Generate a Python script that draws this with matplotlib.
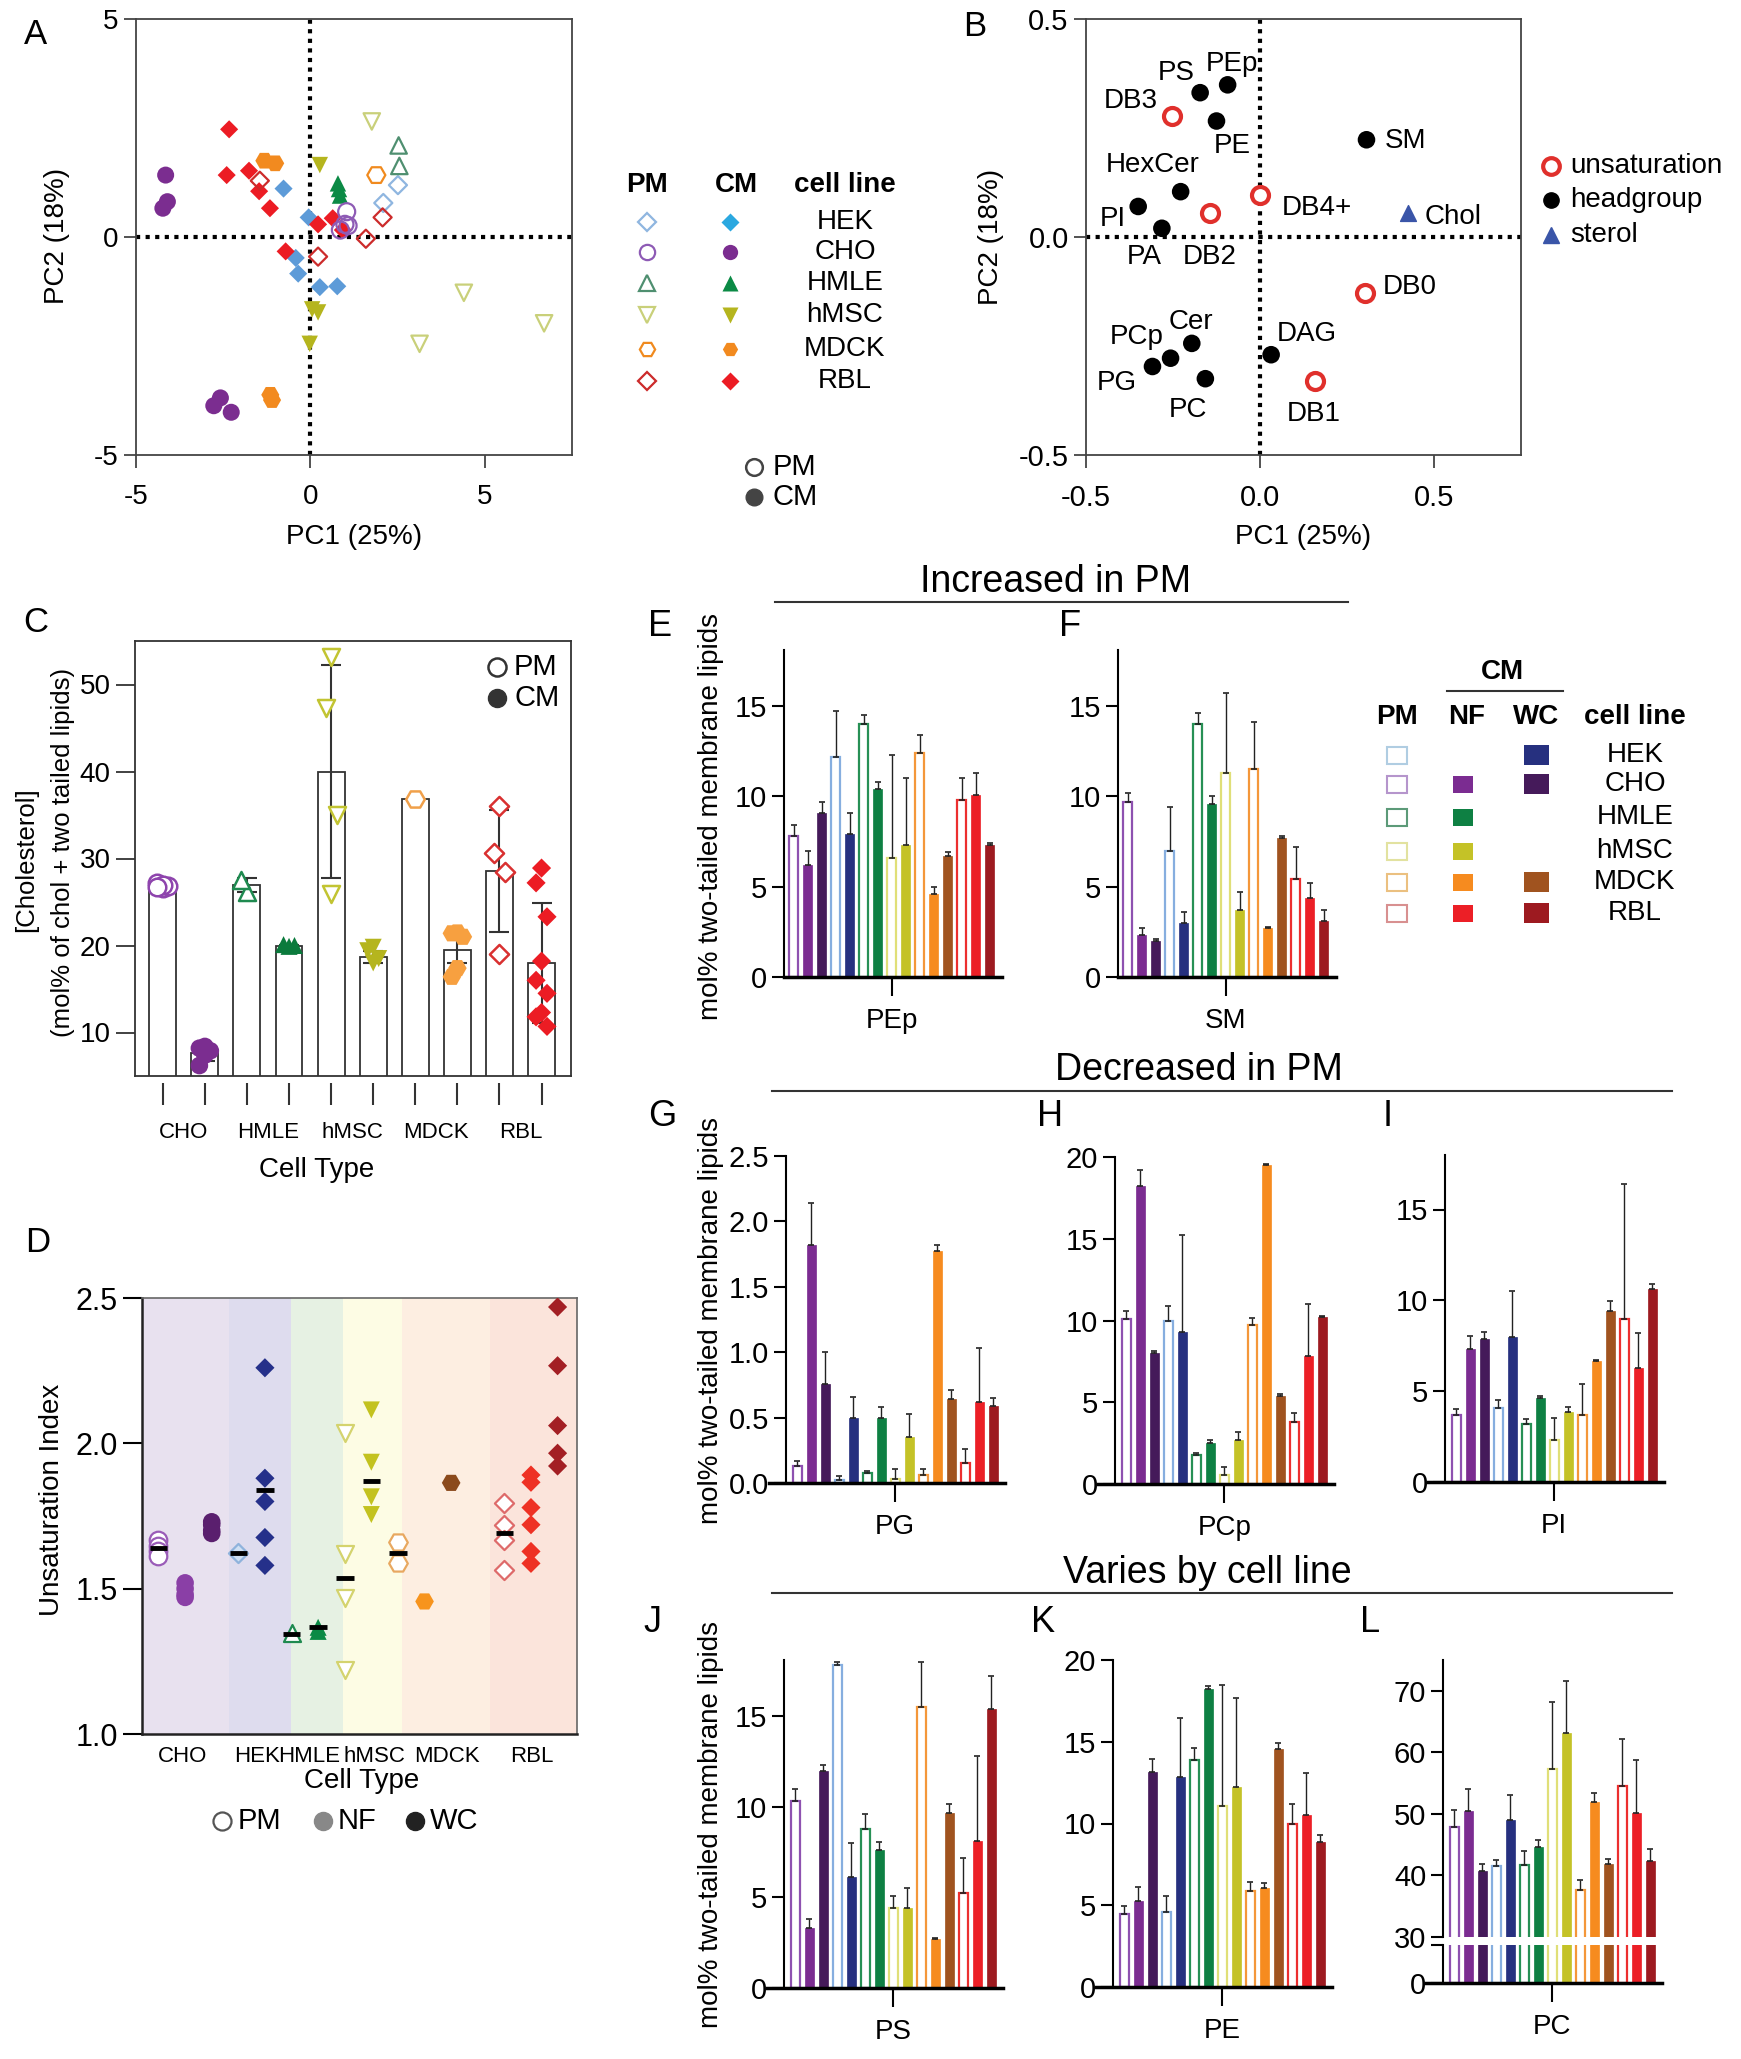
import numpy as np
import matplotlib
matplotlib.use('Agg')
import matplotlib.pyplot as plt
from matplotlib.patches import Rectangle

plt.rcParams['font.family'] = ['Liberation Sans', 'DejaVu Sans']
plt.rcParams['axes.unicode_minus'] = False
NARROW = ['Liberation Sans Narrow', 'Liberation Sans', 'DejaVu Sans']

W, H = 1741, 2059

# ---------------- data ----------------
CELLS = ['HEK', 'CHO', 'HMLE', 'hMSC', 'MDCK', 'RBL']

# A: PCA scores (PC1, PC2)
A_HEK_PM_X = [2.51, 2.09]
A_HEK_PM_Y = [1.19, 0.78]
A_HEK_CM_X = [-0.77, -0.05, -0.42, -0.35, 0.27, 0.77]
A_HEK_CM_Y = [1.11, 0.45, -0.48, -0.84, -1.15, -1.13]
A_CHO_PM_X = [1.04, 0.99, 1.08, 0.86]
A_CHO_PM_Y = [0.58, 0.29, 0.26, 0.16]
A_CHO_CM_X = [-4.15, -4.10, -4.23, -2.58, -2.77, -2.27]
A_CHO_CM_Y = [1.42, 0.81, 0.66, -3.69, -3.87, -4.02]
A_HMLE_PM_X = [2.53, 2.55]
A_HMLE_PM_Y = [2.10, 1.63]
A_HMLE_CM_X = [0.79, 0.82, 0.85]
A_HMLE_CM_Y = [1.23, 1.10, 0.95]
A_HMSC_PM_X = [1.76, 4.40, 3.13, 6.70]
A_HMSC_PM_Y = [2.65, -1.28, -2.45, -1.98]
A_HMSC_CM_X = [0.27, 0.05, 0.22, -0.02]
A_HMSC_CM_Y = [1.65, -1.66, -1.73, -2.45]
A_MDCK_PM_X = [1.89]
A_MDCK_PM_Y = [1.42]
A_MDCK_CM_X = [-1.32, -1.01, -1.15, -1.10]
A_MDCK_CM_Y = [1.75, 1.69, -3.62, -3.74]
A_RBL_PM_X = [-1.45, 2.07, 1.59, 0.22]
A_RBL_PM_Y = [1.29, 0.45, -0.04, -0.45]
A_RBL_CM_X = [-2.33, -2.40, -1.76, -1.47, -1.16, 0.22, 0.64, 0.93, -0.71]
A_RBL_CM_Y = [2.47, 1.42, 1.52, 1.05, 0.66, 0.29, 0.43, 0.16, -0.33]

# B: loadings
B_HEAD_NAMES = ['PS', 'PEp', 'PE', 'SM', 'HexCer', 'PI', 'PA', 'Cer', 'PCp', 'PG', 'PC', 'DAG']
B_HEAD_X = [-0.172, -0.093, -0.125, 0.306, -0.228, -0.350, -0.282, -0.196, -0.257, -0.309, -0.157, 0.032]
B_HEAD_Y = [0.331, 0.349, 0.266, 0.223, 0.104, 0.070, 0.020, -0.244, -0.278, -0.297, -0.325, -0.270]
B_UNSAT_NAMES = ['DB3', 'DB2', 'DB4+', 'DB0', 'DB1']
B_UNSAT_X = [-0.253, -0.144, 0.000, 0.301, 0.157]
B_UNSAT_Y = [0.278, 0.055, 0.096, -0.128, -0.331]
B_STEROL_NAMES = ['Chol']
B_STEROL_X = [0.424]
B_STEROL_Y = [0.056]

# C: cholesterol
C_LABELS = ['CHO', 'HMLE', 'hMSC', 'MDCK', 'RBL']
C_BAR = [26.8, 7.6, 27.0, 20.0, 40.0, 18.7, 36.8, 19.5, 28.6, 18.0]
C_SD = [0.3, 0.9, 0.8, 0.1, 12.2, 0.7, 0.0, 1.5, 7.0, 6.9]
C_CHO_PM = [26.6, 27.2, 26.8, 27.0, 26.7]
C_CHO_CM = [8.4, 8.2, 7.9, 7.4, 6.2]
C_HMLE_PM = [26.2, 27.5]
C_HMLE_CM = [19.9, 20.1, 20.0]
C_HMSC_PM = [53.2, 47.3, 35.0, 25.9]
C_HMSC_CM = [19.8, 19.4, 18.5, 18.0]
C_MDCK_PM = [36.8]
C_MDCK_CM = [21.5, 21.4, 21.0, 17.4, 16.4]
C_RBL_PM = [36.0, 30.6, 28.5, 19.0]
C_RBL_CM = [28.9, 27.2, 23.3, 18.2, 16.0, 14.5, 12.3, 11.8, 10.7]

# D: unsaturation index
D_LABELS = ['CHO', 'HEK', 'HMLE', 'hMSC', 'MDCK', 'RBL']
D_CHO_PM = [1.667, 1.646, 1.628, 1.612]
D_CHO_NF = [1.52, 1.50, 1.48, 1.47]
D_CHO_WC = [1.73, 1.72, 1.70, 1.69]
D_HEK_PM = [1.623]
D_HEK_WC = [2.26, 1.88, 1.80, 1.676, 1.58]
D_HMLE_PM = [1.347]
D_HMLE_NF = [1.367, 1.353]
D_HMSC_PM = [2.034, 1.619, 1.469, 1.22]
D_HMSC_NF = [2.115, 1.935, 1.816, 1.755]
D_MDCK_PM = [1.66, 1.587]
D_MDCK_NF = [1.456]
D_MDCK_WC = [1.864]
D_RBL_PM = [1.796, 1.72, 1.669, 1.564]
D_RBL_NF = [1.891, 1.866, 1.779, 1.72, 1.628, 1.587]
D_RBL_WC = [2.469, 2.267, 2.061, 1.966, 1.922]
D_MEAN_GROUP = ['CHO PM', 'HEK PM', 'HEK WC', 'HMLE PM', 'HMLE NF', 'hMSC PM', 'hMSC NF', 'MDCK PM', 'RBL PM']
D_MEAN_VAL = [1.64, 1.623, 1.839, 1.345, 1.367, 1.537, 1.87, 1.622, 1.693]

# E-L: mol% two-tailed membrane lipids (mean, upper SD)
BAR_GROUPS = ['CHO PM', 'CHO NF', 'CHO WC', 'HEK PM', 'HEK WC', 'HMLE PM', 'HMLE NF',
              'hMSC PM', 'hMSC NF', 'MDCK PM', 'MDCK NF', 'MDCK WC', 'RBL PM', 'RBL NF', 'RBL WC']
PEP_MEAN = [7.8, 6.2, 9.1, 12.2, 7.9, 14.0, 10.4, 6.6, 7.3, 12.4, 4.6, 6.7, 9.8, 10.1, 7.3]
PEP_ERR = [0.6, 0.8, 0.6, 2.5, 1.2, 0.5, 0.4, 5.7, 3.7, 1.0, 0.4, 0.2, 1.2, 1.2, 0.1]
SM_MEAN = [9.7, 2.3, 2.0, 7.0, 3.0, 14.0, 9.6, 11.3, 3.7, 11.5, 2.7, 7.7, 5.4, 4.4, 3.1]
SM_ERR = [0.5, 0.4, 0.1, 2.4, 0.6, 0.6, 0.4, 4.4, 1.0, 2.6, 0.05, 0.1, 1.8, 0.8, 0.6]
PG_MEAN = [0.13, 1.82, 0.76, 0.02, 0.50, 0.08, 0.50, 0.03, 0.35, 0.06, 1.77, 0.64, 0.15, 0.62, 0.59]
PG_ERR = [0.04, 0.32, 0.24, 0.03, 0.16, 0.01, 0.08, 0.08, 0.18, 0.05, 0.05, 0.07, 0.11, 0.41, 0.06]
PCP_MEAN = [10.1, 18.2, 8.0, 10.0, 9.3, 1.8, 2.5, 0.55, 2.7, 9.7, 19.5, 5.4, 3.8, 7.8, 10.2]
PCP_ERR = [0.5, 1.0, 0.15, 0.9, 5.9, 0.1, 0.2, 0.5, 0.5, 0.45, 0.07, 0.12, 0.57, 3.2, 0.1]
PI_MEAN = [3.7, 7.3, 7.85, 4.1, 8.0, 3.2, 4.6, 2.3, 3.85, 3.7, 6.65, 9.4, 9.0, 6.3, 10.65]
PI_ERR = [0.33, 0.73, 0.42, 0.41, 2.5, 0.27, 0.15, 1.2, 0.26, 1.7, 0.06, 0.55, 7.4, 1.9, 0.24]
PS_MEAN = [10.3, 3.3, 12.0, 17.8, 6.1, 8.8, 7.6, 4.4, 4.4, 15.5, 2.7, 9.65, 5.25, 8.1, 15.4]
PS_ERR = [0.7, 0.5, 0.3, 0.2, 1.9, 0.8, 0.45, 0.65, 1.1, 2.5, 0.05, 0.5, 1.95, 4.7, 1.8]
PE_MEAN = [4.45, 5.25, 13.15, 4.6, 12.85, 13.9, 18.2, 11.1, 12.25, 5.85, 6.05, 14.55, 9.95, 10.5, 8.85]
PE_ERR = [0.5, 0.85, 0.8, 0.95, 3.6, 0.7, 0.2, 7.35, 5.45, 0.55, 0.3, 0.35, 1.25, 2.6, 0.45]
PC_MEAN = [47.8, 50.4, 40.7, 41.6, 49.0, 41.7, 44.7, 57.3, 63.1, 37.7, 52.0, 41.8, 54.5, 50.1, 42.3]
PC_ERR = [2.8, 3.65, 1.2, 0.9, 4.1, 2.2, 1.0, 10.8, 8.5, 1.5, 1.4, 0.9, 7.7, 8.7, 2.0]

# ---------------- styles ----------------
MARK = {'HEK': 'D', 'CHO': 'o', 'HMLE': '^', 'hMSC': 'v', 'MDCK': 'H', 'RBL': 'D'}
MSIZE = {'HEK': 85, 'CHO': 150, 'HMLE': 140, 'hMSC': 140, 'MDCK': 170, 'RBL': 85}
A_PM_COL = {'HEK': '#8fb6e0', 'CHO': '#8e5bb5', 'HMLE': '#4f8f70', 'hMSC': '#c9d07a',
            'MDCK': '#f08a1e', 'RBL': '#cc2b2b'}
A_CM_COL = {'HEK': '#5d9bd8', 'CHO': '#7b2d90', 'HMLE': '#0b8a45', 'hMSC': '#b5b51e',
            'MDCK': '#f28a1f', 'RBL': '#ec1c24'}
LEG_A_CM_COL = dict(A_CM_COL, HEK='#2ba8e0')

BAR_COL = {'CHO PM': '#8e51b0', 'CHO NF': '#7b2c91', 'CHO WC': '#451a5a',
           'HEK PM': '#86aedf', 'HEK WC': '#26307f',
           'HMLE PM': '#279055', 'HMLE NF': '#0e8043',
           'hMSC PM': '#e0df78', 'hMSC NF': '#c4c227',
           'MDCK PM': '#f4973a', 'MDCK NF': '#f68b1f', 'MDCK WC': '#a0531f',
           'RBL PM': '#ec2f2f', 'RBL NF': '#ec1f26', 'RBL WC': '#9d1a20'}
LEG_PM_COL = {'HEK': '#b0cde2', 'CHO': '#b595cc', 'HMLE': '#5c9a78', 'hMSC': '#e2e2a0',
              'MDCK': '#ebc080', 'RBL': '#d89090'}

fig = plt.figure(figsize=(W / 100, H / 100), dpi=100)


def rect(l, t, r, b):
    return [l / W, 1 - b / H, (r - l) / W, (b - t) / H]


def dotted_zero(ax):
    ax.axhline(0, color='k', lw=3, ls=(0, (1, 1.3)), zorder=1)
    ax.axvline(0, color='k', lw=3, ls=(0, (1, 1.3)), zorder=1)


def box(ax, color='#444', lw=1.3):
    for s in ax.spines.values():
        s.set_color(color)
        s.set_linewidth(lw)


# ---------------- A ----------------
axA = fig.add_axes(rect(136, 19, 572, 455))
box(axA)
axA.set_xlim(-5, 7.5)
axA.set_ylim(-5, 5)
axA.set_xticks([-5, 0, 5])
axA.set_yticks([-5, 0, 5])
axA.tick_params(length=9, width=1.3, color='#444', labelsize=20)
axA.tick_params(axis='x', pad=12)
dotted_zero(axA)
A_PM = {'HEK': (A_HEK_PM_X, A_HEK_PM_Y), 'CHO': (A_CHO_PM_X, A_CHO_PM_Y),
        'HMLE': (A_HMLE_PM_X, A_HMLE_PM_Y), 'hMSC': (A_HMSC_PM_X, A_HMSC_PM_Y),
        'MDCK': (A_MDCK_PM_X, A_MDCK_PM_Y), 'RBL': (A_RBL_PM_X, A_RBL_PM_Y)}
A_CM = {'HEK': (A_HEK_CM_X, A_HEK_CM_Y), 'CHO': (A_CHO_CM_X, A_CHO_CM_Y),
        'HMLE': (A_HMLE_CM_X, A_HMLE_CM_Y), 'hMSC': (A_HMSC_CM_X, A_HMSC_CM_Y),
        'MDCK': (A_MDCK_CM_X, A_MDCK_CM_Y), 'RBL': (A_RBL_CM_X, A_RBL_CM_Y)}
for cell in CELLS:
    cx, cy = A_CM[cell]
    axA.scatter(cx, cy, marker=MARK[cell], s=MSIZE[cell], color=A_CM_COL[cell],
                edgecolors='none', zorder=3)
    px, py = A_PM[cell]
    axA.scatter(px, py, marker=MARK[cell], s=MSIZE[cell], facecolors='none',
                edgecolors=A_PM_COL[cell], linewidths=1.6, zorder=4)

# ---------------- B ----------------
axB = fig.add_axes(rect(1086, 19, 1521, 455))
box(axB)
axB.set_xlim(-0.5, 0.75)
axB.set_ylim(-0.5, 0.5)
axB.set_xticks([-0.5, 0, 0.5], ['-0.5', '0.0', '0.5'], fontfamily=NARROW, fontsize=21)
axB.set_yticks([-0.5, 0, 0.5], ['-0.5', '0.0', '0.5'], fontfamily=NARROW, fontsize=21)
axB.tick_params(length=9, width=1.3, color='#444')
axB.tick_params(axis='x', pad=12)
dotted_zero(axB)
axB.scatter(B_HEAD_X, B_HEAD_Y, s=160, color='k', edgecolors='none', zorder=3)
axB.scatter(B_UNSAT_X, B_UNSAT_Y, s=150, facecolors='white', edgecolors='#e0302c',
            linewidths=3, zorder=3)
axB.scatter(B_STEROL_X, B_STEROL_Y, marker='^', s=130, color='#3a55a8', zorder=3)
B_LABEL_POS = {'PS': (-0.24, 0.376), 'PEp': (-0.081, 0.397), 'PE': (-0.081, 0.209),
               'SM': (0.419, 0.221), 'HexCer': (-0.309, 0.164), 'PI': (-0.422, 0.041),
               'PA': (-0.334, -0.045), 'Cer': (-0.199, -0.195), 'PCp': (-0.353, -0.229),
               'PG': (-0.412, -0.336), 'PC': (-0.206, -0.397), 'DAG': (0.135, -0.223),
               'DB3': (-0.371, 0.311), 'DB2': (-0.144, -0.045), 'DB4+': (0.162, 0.067),
               'DB0': (0.429, -0.115), 'DB1': (0.154, -0.405), 'Chol': (0.556, 0.045)}
for name in B_HEAD_NAMES + B_UNSAT_NAMES + B_STEROL_NAMES:
    tx, ty = B_LABEL_POS[name]
    axB.text(tx, ty, name, ha='center', va='center', fontsize=20)

# ---------------- C ----------------
axC = fig.add_axes(rect(135, 641, 571, 1076))
box(axC, '#333', 1.3)
axC.spines['bottom'].set_position(('outward', 5))
axC.spines['bottom'].set_visible(False)
axC.axhline(5, color='#333', lw=1.3, clip_on=False)
axC.set_xlim(-0.66, 9.7)
axC.set_ylim(5, 55)
cpos = np.arange(len(C_BAR))
axC.bar(cpos, C_BAR, width=0.64, color='white', edgecolor='#333', lw=1.3, zorder=1)
has_sd = np.array(C_SD) > 0
axC.errorbar(cpos[has_sd], np.array(C_BAR)[has_sd], yerr=np.array(C_SD)[has_sd], fmt='none',
             ecolor='#333', elinewidth=1.5, capsize=7, capthick=1.5, zorder=2)
C_POINTS = [('CHO', C_CHO_PM, False), ('CHO', C_CHO_CM, True), ('HMLE', C_HMLE_PM, False),
            ('HMLE', C_HMLE_CM, True), ('hMSC', C_HMSC_PM, False), ('hMSC', C_HMSC_CM, True),
            ('MDCK', C_MDCK_PM, False), ('MDCK', C_MDCK_CM, True), ('RBL', C_RBL_PM, False),
            ('RBL', C_RBL_CM, True)]
C_PM_COL = {'CHO': '#8e44ad', 'HMLE': '#1f8a50', 'hMSC': '#c2c432', 'MDCK': '#f0a04a', 'RBL': '#d93030'}
C_CM_COL = {'CHO': '#7b2d90', 'HMLE': '#0b7a3c', 'hMSC': '#b5b51e', 'MDCK': '#f7a040', 'RBL': '#ec1c24'}
jit = [0.0, -0.13, 0.13]
for i, (cell, vals, filled) in enumerate(C_POINTS):
    xs = [i + jit[k % 3] for k in range(len(vals))]
    if filled:
        axC.scatter(xs, vals, marker=MARK[cell], s=MSIZE[cell] + 10, color=C_CM_COL[cell],
                    edgecolors='none', zorder=3, clip_on=False)
    else:
        axC.scatter(xs, vals, marker=MARK[cell], s=MSIZE[cell] + 10, facecolors='white',
                    edgecolors=C_PM_COL[cell], linewidths=1.8, zorder=3, clip_on=False)
axC.set_xticks(cpos, [''] * len(cpos))
axC.set_xticks([0.5, 2.5, 4.5, 6.5, 8.5], C_LABELS, minor=True, fontsize=16)
axC.tick_params(axis='x', which='major', length=16, width=1.5, color='#333')
axC.tick_params(axis='x', which='minor', length=0, pad=28)
axC.set_yticks([10, 20, 30, 40, 50])
axC.tick_params(axis='y', length=14, width=1.3, color='#333', labelsize=20)

# ---------------- D ----------------
axD = fig.add_axes(rect(142, 1298, 577, 1734))
box(axD, '#666', 1.2)
axD.spines['left'].set_color('#222')
axD.spines['bottom'].set_color('#222')
axD.spines['left'].set_linewidth(1.8)
axD.spines['bottom'].set_linewidth(1.8)
axD.set_xlim(-0.62, 15.73)
axD.set_ylim(1.0, 2.5)
D_BANDS = [(-0.62, 2.66, '#e8e1ef'), (2.66, 4.99, '#dedcee'), (4.99, 6.94, '#e6f1e3'),
           (6.94, 9.17, '#fdfce4'), (9.17, 12.45, '#fdeee1'), (12.45, 15.73, '#fbe4db')]
for x0, x1, c in D_BANDS:
    axD.axvspan(x0, x1, color=c, lw=0, zorder=0)
D_POS = {'CHO PM': 0, 'CHO NF': 1, 'CHO WC': 2, 'HEK PM': 3, 'HEK WC': 4, 'HMLE PM': 5,
         'HMLE NF': 6, 'hMSC PM': 7, 'hMSC NF': 8, 'MDCK PM': 9, 'MDCK NF': 10,
         'MDCK WC': 11, 'RBL PM': 13, 'RBL NF': 14, 'RBL WC': 15}
D_VALS = {'CHO PM': D_CHO_PM, 'CHO NF': D_CHO_NF, 'CHO WC': D_CHO_WC, 'HEK PM': D_HEK_PM,
          'HEK WC': D_HEK_WC, 'HMLE PM': D_HMLE_PM, 'HMLE NF': D_HMLE_NF,
          'hMSC PM': D_HMSC_PM, 'hMSC NF': D_HMSC_NF, 'MDCK PM': D_MDCK_PM,
          'MDCK NF': D_MDCK_NF, 'MDCK WC': D_MDCK_WC, 'RBL PM': D_RBL_PM,
          'RBL NF': D_RBL_NF, 'RBL WC': D_RBL_WC}
D_COL = {'CHO PM': '#9a5cb8', 'CHO NF': '#8a3fa6', 'CHO WC': '#5a1f6e', 'HEK PM': '#8fb3dc',
         'HEK WC': '#25308a', 'HMLE PM': '#1f8a50', 'HMLE NF': '#0b8a45', 'hMSC PM': '#d4d36e',
         'hMSC NF': '#c3c21f', 'MDCK PM': '#e8a860', 'MDCK NF': '#f7941d', 'MDCK WC': '#8b4a1c',
         'RBL PM': '#de6a6a', 'RBL NF': '#ee3124', 'RBL WC': '#a31f24'}
for g, vals in D_VALS.items():
    cell, kind = g.split()
    xs = [D_POS[g]] * len(vals)
    if kind == 'PM':
        face = '#cfe0f3' if cell == 'HEK' else 'white'
        axD.scatter(xs, vals, marker=MARK[cell], s=MSIZE[cell] + 10, facecolors=face,
                    edgecolors=D_COL[g], linewidths=1.6, zorder=3)
    else:
        axD.scatter(xs, vals, marker=MARK[cell], s=MSIZE[cell] + 10, color=D_COL[g],
                    edgecolors='none', zorder=3)
mx = np.array([D_POS[g] for g in D_MEAN_GROUP])
axD.hlines(D_MEAN_VAL, mx - 0.33, mx + 0.33, color='k', lw=3.5, zorder=4)
axD.set_yticks([1.0, 1.5, 2.0, 2.5], ['1.0', '1.5', '2.0', '2.5'], fontsize=22)
axD.tick_params(axis='y', length=14, width=1.5)
axD.set_xticks([0.91, 3.70, 5.68, 8.1, 10.83, 14.03], D_LABELS, fontsize=16)
axD.tick_params(axis='x', length=0, pad=9)


# ---------------- E-L ----------------
def draw_bars(ax, means, errs=None):
    x = np.arange(len(means))
    for i, g in enumerate(BAR_GROUPS):
        c = BAR_COL[g]
        if g.endswith('PM'):
            ax.bar(i, means[i], width=0.66, facecolor='white', edgecolor=c, linewidth=1.6, zorder=2)
        else:
            ax.bar(i, means[i], width=0.66, facecolor=c, edgecolor=c, linewidth=0.5, zorder=2)
    if errs is not None:
        ax.errorbar(x, means, yerr=[np.zeros(len(errs)), errs], fmt='none', ecolor='#222',
                    elinewidth=1.0, capsize=2.5, capthick=1.2, zorder=3)


def style_bar_axes(ax, spine_data, ylim, yticks, ylabels, name):
    ax.set_ylim(*ylim)
    ax.patch.set_alpha(0)
    ax.spines['top'].set_visible(False)
    ax.spines['right'].set_visible(False)
    ax.spines['left'].set_position(('data', spine_data))
    ax.spines['left'].set_linewidth(1.5)
    ax.spines['bottom'].set_linewidth(2.5)
    ax.set_yticks(yticks, ylabels, fontfamily=NARROW, fontsize=21)
    ax.tick_params(axis='y', length=9, width=1.5, pad=3)
    if name:
        ax.set_xticks([7], [name], fontfamily=NARROW, fontsize=20)
        ax.tick_params(axis='x', length=14, width=1.5, pad=8)
    else:
        ax.set_xticks([])


def bar_panel(means, errs, name, spine_px, top, bottom, ylim, yticks, ylabels, full_x=True):
    if full_x:
        xmin, sd = -2.0, -0.8
    else:
        xmin, sd = -0.7, -0.7
    xmax = 14.85
    left = spine_px - (sd - xmin) * 14
    right = left + (xmax - xmin) * 14
    ax = fig.add_axes(rect(left, top, right, bottom))
    ax.set_xlim(xmin, xmax)
    draw_bars(ax, means, errs)
    style_bar_axes(ax, sd, ylim, yticks, ylabels, name)
    return ax


t15 = [0, 5, 10, 15]
t20 = [0, 5, 10, 15, 20]
bar_panel(PEP_MEAN, PEP_ERR, 'PEp', 784, 650, 977, (0, 18.1), t15, [str(t) for t in t15], False)
bar_panel(SM_MEAN, SM_ERR, 'SM', 1118, 650, 977, (0, 18.1), t15, [str(t) for t in t15], False)
bar_panel(PG_MEAN, PG_ERR, 'PG', 786, 1156, 1483, (0, 2.5), [0, 0.5, 1, 1.5, 2, 2.5],
          ['0.0', '0.5', '1.0', '1.5', '2.0', '2.5'])
bar_panel(PCP_MEAN, PCP_ERR, 'PCp', 1115, 1157, 1484, (0, 20), t20, [str(t) for t in t20])
bar_panel(PI_MEAN, PI_ERR, 'PI', 1445, 1155, 1482, (0, 18.0), t15, [str(t) for t in t15])
bar_panel(PS_MEAN, PS_ERR, 'PS', 784, 1660, 1988, (0, 18.1), t15, [str(t) for t in t15])
bar_panel(PE_MEAN, PE_ERR, 'PE', 1113, 1660, 1987, (0, 20), t20, [str(t) for t in t20])
# PC with broken axis
axLt = bar_panel(PC_MEAN, PC_ERR, None, 1443, 1660, 1937, (30, 75), [30, 40, 50, 60, 70],
                 ['30', '40', '50', '60', '70'])
axLt.spines['bottom'].set_visible(False)
axLb = bar_panel(PC_MEAN, None, 'PC', 1443, 1945, 1983, (0, 28), [0, 28], ['0', ''])

# ---------------- overlay text / legends ----------------
ov = fig.add_axes([0, 0, 1, 1], zorder=10)
ov.set_xlim(0, W)
ov.set_ylim(H, 0)
ov.axis('off')

for lab, x, y in [('A', 36, 34), ('B', 975, 27), ('C', 36, 623), ('D', 38, 1242)]:
    ov.text(x, y, lab, fontsize=25, ha='center', va='center')
for lab, x, y in [('E', 660, 627), ('F', 1070, 627), ('G', 662, 1117), ('H', 1050, 1117),
                  ('I', 1388, 1117), ('J', 652, 1622), ('K', 1043, 1622), ('L', 1370, 1622)]:
    ov.text(x, y, lab, fontsize=26, ha='center', va='center', family=NARROW)

ov.text(354, 537, 'PC1 (25%)', fontsize=20, ha='center', va='center')
ov.text(57, 236, 'PC2 (18%)', fontsize=20, ha='center', va='center', rotation=90)
ov.text(1303, 537, 'PC1 (25%)', fontsize=20, ha='center', va='center')
ov.text(991, 237, 'PC2 (18%)', fontsize=20, ha='center', va='center', rotation=90)
ov.text(26, 860, '[Cholesterol]', fontsize=18.5, ha='center', va='center', rotation=90)
ov.text(63, 852, '(mol% of chol + two tailed lipids)', fontsize=18.5, ha='center', va='center',
        rotation=90)
ov.text(317, 1170, 'Cell Type', fontsize=20, ha='center', va='center')
ov.text(52, 1500, 'Unsaturation Index', fontsize=20, ha='center', va='center', rotation=90)
ov.text(362, 1781, 'Cell Type', fontsize=20, ha='center', va='center')
for y in [817, 1320, 1825]:
    ov.text(711, y, 'mol% two-tailed membrane lipids', fontsize=20, ha='center', va='center',
            rotation=90)

# section titles
for txt, cx, cy, x0, x1, ly in [('Increased in PM', 1056, 582, 775, 1348, 602),
                                ('Decreased in PM', 1199, 1070, 772, 1672, 1091),
                                ('Varies by cell line', 1207, 1573, 772, 1672, 1593)]:
    ov.text(cx, cy, txt, fontsize=27, ha='center', va='center', family=NARROW)
    ov.plot([x0, x1], [ly, ly], color='#333', lw=1.5)

# legend A
for txt, x in [('PM', 647), ('CM', 736), ('cell line', 845)]:
    ov.text(x, 185, txt, fontsize=20, fontweight='bold', ha='center', va='center')
A_LEG_Y = [222, 252, 283, 315, 349, 381]
for cell, y in zip(CELLS, A_LEG_Y):
    ms = 9 if MARK[cell] == 'D' else 11
    ov.plot(647, y, marker=MARK[cell], ms=ms, mfc='white', mec=A_PM_COL[cell], mew=1.6, ls='none')
    ov.plot(730, y, marker=MARK[cell], ms=ms, color=LEG_A_CM_COL[cell], mec='none', ls='none')
    ov.text(845, y, cell, fontsize=20, ha='center', va='center')
ov.plot(754, 467, marker='o', ms=12, mfc='white', mec='#444', mew=1.8, ls='none')
ov.text(773, 467, 'PM', fontsize=21, ha='left', va='center')
ov.plot(754, 497, marker='o', ms=12, color='#444', ls='none')
ov.text(773, 497, 'CM', fontsize=21, ha='left', va='center')

# legend B
ov.plot(1551, 166, marker='o', ms=12, mfc='white', mec='#e0302c', mew=3, ls='none')
ov.text(1570, 166, 'unsaturation', fontsize=20, ha='left', va='center')
ov.plot(1551, 200, marker='o', ms=11, color='k', ls='none')
ov.text(1570, 200, 'headgroup', fontsize=20, ha='left', va='center')
ov.plot(1551, 235, marker='^', ms=11, color='#3a55a8', ls='none')
ov.text(1570, 235, 'sterol', fontsize=20, ha='left', va='center')

# legend C
ov.plot(497, 667, marker='o', ms=13, mfc='white', mec='#333', mew=1.8, ls='none')
ov.text(514, 667, 'PM', fontsize=21, ha='left', va='center')
ov.plot(497, 698, marker='o', ms=13, color='#333', ls='none')
ov.text(514, 698, 'CM', fontsize=21, ha='left', va='center')

# legend D
ov.plot(222, 1821, marker='o', ms=13, mfc='white', mec='#555', mew=1.6, ls='none')
ov.text(238, 1821, 'PM', fontsize=21, ha='left', va='center')
ov.plot(323, 1821, marker='o', ms=13, color='#888', ls='none')
ov.text(338, 1821, 'NF', fontsize=21, ha='left', va='center')
ov.plot(415, 1821, marker='o', ms=13, color='#222', ls='none')
ov.text(430, 1821, 'WC', fontsize=21, ha='left', va='center')

# legend E-L
for txt, x in [('PM', 1397), ('NF', 1467), ('WC', 1536), ('cell line', 1635)]:
    ov.text(x, 717, txt, fontsize=20, fontweight='bold', ha='center', va='center')
ov.text(1502, 672, 'CM', fontsize=20, fontweight='bold', ha='center', va='center')
ov.plot([1447, 1563], [691, 691], color='#333', lw=1.5)
LEG_ROWS = [('HEK', 755), ('CHO', 784), ('HMLE', 817), ('hMSC', 851), ('MDCK', 882), ('RBL', 913)]
for cell, y in LEG_ROWS:
    ov.add_patch(Rectangle((1387, y - 8.5), 20, 17, fc='white', ec=LEG_PM_COL[cell], lw=1.5))
    if cell + ' NF' in BAR_COL:
        ov.add_patch(Rectangle((1453, y - 8.5), 20, 17, fc=BAR_COL[cell + ' NF'], ec='none'))
    if cell + ' WC' in BAR_COL:
        ov.add_patch(Rectangle((1523.5, y - 10), 25, 20, fc=BAR_COL[cell + ' WC'], ec='none'))
    ov.text(1635, y, cell, fontsize=20, ha='center', va='center')

fig.savefig('out.png', dpi=100)
